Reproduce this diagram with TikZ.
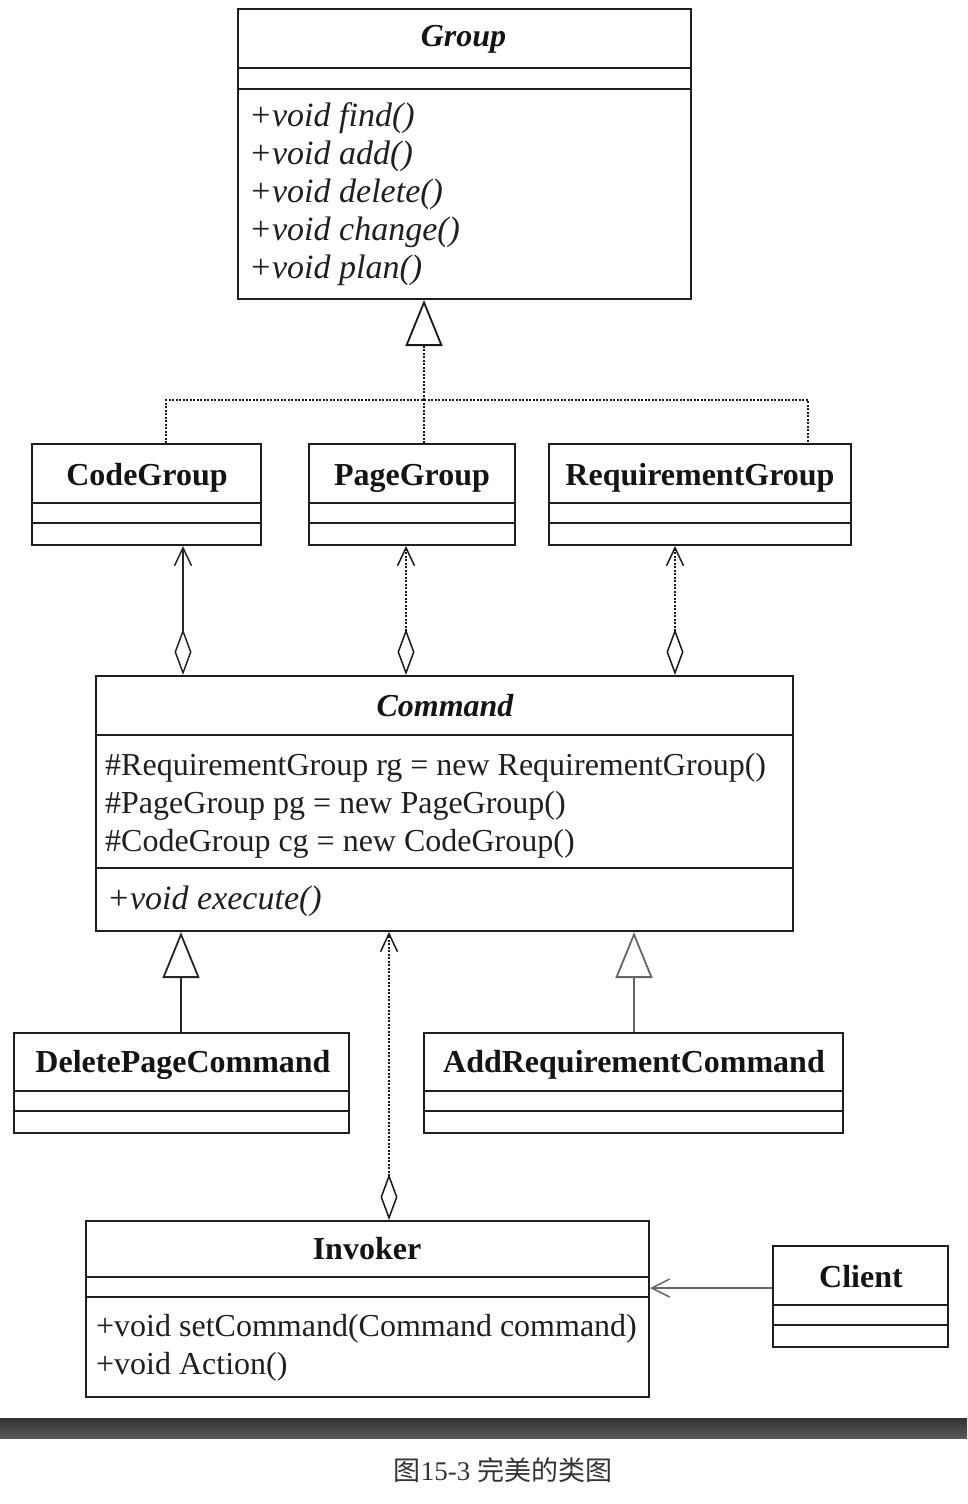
\documentclass[tikz,border=0pt]{standalone}
\usepackage{fontspec}
\setmainfont{Liberation Serif}
\newfontfamily\cjk{Noto Sans CJK SC}
\usetikzlibrary{arrows.meta}
\begin{document}
\begin{tikzpicture}[x=1pt,y=-1pt,
  box/.style={draw=black!88, line width=2pt, inner sep=0pt, anchor=north west},
  sepline/.style={draw=black!88, line width=2pt},
  nm/.style={font=\fontsize{32}{38}\selectfont\bfseries, anchor=base, inner sep=0pt, text=black!92},
  nmi/.style={font=\fontsize{32}{38}\selectfont\bfseries\itshape, anchor=base, inner sep=0pt, text=black!92},
  meth/.style={font=\fontsize{34}{38}\selectfont\itshape, anchor=base west, inner sep=0pt, text=black!88},
  attr/.style={font=\fontsize{32}{38}\selectfont, anchor=base west, inner sep=0pt, text=black!88},
  conn/.style={draw=black!85, line width=1.5pt},
  dotline/.style={draw=black!90, line width=1.8pt, dash pattern=on 2pt off 1.5pt},
  gen/.style={-{Triangle[open,length=46pt,width=37pt,line width=1.8pt,sep=0pt]}},
  agg/.style={{Diamond[open,length=46pt,width=17pt,line width=1.5pt]}-{Straight Barb[length=18pt,width=17pt,line width=1.5pt]}}
]
\useasboundingbox (0,0) rectangle (967,1504);

% ---------- Group ----------
\node[box, minimum width=453pt, minimum height=290pt] (group) at (237,8) {};
\draw[sepline] (237,68) -- (690,68);
\draw[sepline] (237,89) -- (690,89);
\node[nmi] (groupname) at (463.5,47) {Group};
\node[meth] (gm1) at (249,126) {+void find()};
\node[meth] (gm2) at (249,164) {+void add()};
\node[meth] (gm3) at (249,202) {+void delete()};
\node[meth] (gm4) at (249,240) {+void change()};
\node[meth] (gm5) at (249,278) {+void plan()};

% ---------- three groups ----------
\node[box, minimum width=229pt, minimum height=101pt] (cg) at (31,443) {};
\draw[sepline] (31,503) -- (260,503);
\draw[sepline] (31,523) -- (260,523);
\node[nm] (cgname) at (147,485) {CodeGroup};

\node[box, minimum width=206pt, minimum height=101pt] (pg) at (308,443) {};
\draw[sepline] (308,503) -- (514,503);
\draw[sepline] (308,523) -- (514,523);
\node[nm] (pgname) at (412,485) {PageGroup};

\node[box, minimum width=302pt, minimum height=101pt] (rg) at (548,443) {};
\draw[sepline] (548,503) -- (850,503);
\draw[sepline] (548,523) -- (850,523);
\node[nm] (rgname) at (700,485) {RequirementGroup};

% ---------- Command ----------
\node[box, minimum width=697pt, minimum height=255pt] (cmd) at (95,675) {};
\draw[sepline] (95,735) -- (792,735);
\draw[sepline] (95,868) -- (792,868);
\node[nmi] (cmdname) at (445,716) {Command};
\node[attr] (ca1) at (105,775) {\#RequirementGroup rg = new RequirementGroup()};
\node[attr] (ca2) at (105,813) {\#PageGroup pg = new PageGroup()};
\node[attr] (ca3) at (105,851) {\#CodeGroup cg = new CodeGroup()};
\node[meth] (cm1) at (107,909) {+void execute()};

% ---------- subclasses ----------
\node[box, minimum width=335pt, minimum height=100pt] (dpc) at (13,1032) {};
\draw[sepline] (13,1091) -- (348,1091);
\draw[sepline] (13,1111) -- (348,1111);
\node[nm] (dpcname) at (183,1072) {DeletePageCommand};

\node[box, minimum width=419pt, minimum height=100pt] (arc) at (423,1032) {};
\draw[sepline] (423,1091) -- (842,1091);
\draw[sepline] (423,1111) -- (842,1111);
\node[nm] (arcname) at (634,1072) {AddRequirementCommand};

% ---------- Invoker ----------
\node[box, minimum width=563pt, minimum height=176pt] (inv) at (85,1220) {};
\draw[sepline] (85,1277) -- (648,1277);
\draw[sepline] (85,1297) -- (648,1297);
\node[nm] (invname) at (367,1259) {Invoker};
\node[attr] (im1) at (96,1336) {+void setCommand(Command command)};
\node[attr] (im2) at (96,1374) {+void Action()};

% ---------- Client ----------
\node[box, minimum width=175pt, minimum height=101pt] (cli) at (772,1245) {};
\draw[sepline] (772,1305) -- (947,1305);
\draw[sepline] (772,1325) -- (947,1325);
\node[nm] (cliname) at (861,1287) {Client};

% ---------- connectors ----------
\coordinate (j) at (424,400);
\coordinate (jl) at (166,400);
\coordinate (jr) at (808,400);
\draw[dotline] (cg.north -| jl) -- (jl) -- (jr) -- (rg.north -| jr);
\draw[dotline] (pg.north -| j) -- (j);
\draw[dotline, gen] (j) -- (group.south -| j);

\coordinate (a1) at (183,0);
\coordinate (a2) at (406,0);
\coordinate (a3) at (675,0);
\draw[conn, agg] (cmd.north -| a1) -- (cg.south -| a1);
\draw[dotline, agg] (cmd.north -| a2) -- (pg.south -| a2);
\draw[dotline, agg] (cmd.north -| a3) -- (rg.south -| a3);

\coordinate (g1) at (181,0);
\coordinate (g2) at (634,0);
\draw[conn, gen] (dpc.north -| g1) -- (cmd.south -| g1);
\draw[conn, draw=black!60, gen] (arc.north -| g2) -- (cmd.south -| g2);

\coordinate (i1) at (389,0);
\draw[dotline, agg] (inv.north -| i1) -- (cmd.south -| i1);

\coordinate (cy) at (0,1288);
\draw[conn, draw=black!60, -{Straight Barb[length=18pt,width=18pt,line width=1.5pt]}] (cli.west |- cy) -- (inv.east |- cy);

% ---------- bar and caption ----------
\shade[top color=black!80, bottom color=black!65] (0,1418) rectangle (967,1438);
\node[font=\fontsize{27}{30}\selectfont, text=black!80, inner sep=0pt] (cap) at (503,1470) {{\cjk 图}15-3 {\cjk 完美的类图}};
\end{tikzpicture}
\end{document}
